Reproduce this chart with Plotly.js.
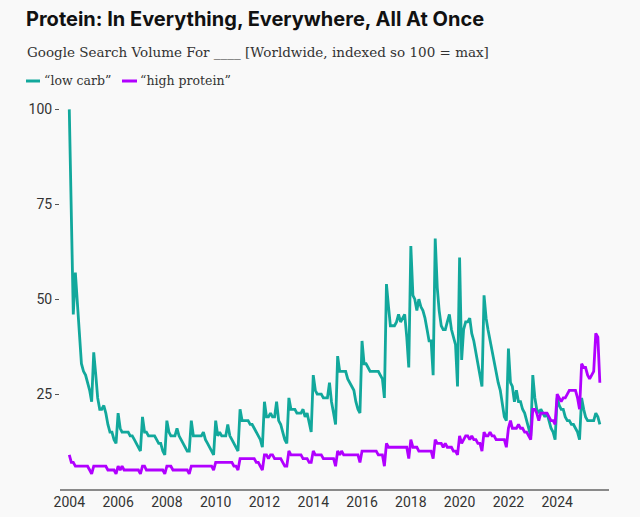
<!DOCTYPE html>
<html>
<head>
<meta charset="utf-8">
<script src="https://cdn.plot.ly/plotly-3.0.1.min.js"></script>
<style>
  html, body { margin: 0; padding: 0; background: #f9f9f9; }
  #chart { width: 640px; height: 517px; }
</style>
</head>
<body>
<div id="chart"></div>
<script>
// Monthly Google Trends index, Jan 2004 .. Oct 2025
const startYear = 2004;
const lowCarb = [
  100, 66, 46, 57, 49, 40, 33, 31, 30, 28, 26, 23,
  36, 30, 24, 21, 21, 22, 20, 17, 15, 15, 13, 12,
  20, 16, 15, 15, 15, 15, 14, 14, 13, 12, 11, 10,
  19, 15, 15, 14, 14, 14, 14, 13, 12, 12, 10, 9,
  18, 15, 14, 14, 14, 16, 14, 13, 12, 11, 10, 10,
  18, 14, 14, 14, 14, 14, 15, 13, 12, 11, 10, 9,
  18, 14, 15, 14, 14, 14, 17, 14, 13, 12, 11, 10,
  21, 18, 18, 18, 18, 17, 17, 16, 15, 14, 13, 11,
  23, 19, 19, 20, 19, 19, 23, 18, 17, 15, 13, 12,
  24, 21, 21, 21, 20, 20, 20, 21, 19, 20, 17, 15,
  30, 26, 25, 25, 25, 24, 24, 24, 28, 23, 20, 17,
  35, 31, 31, 31, 31, 29, 28, 27, 26, 23, 21, 20,
  39, 33, 33, 32, 31, 31, 31, 31, 31, 30, 29, 24,
  54, 48, 43, 43, 43, 44, 46, 44, 45, 46, 40, 32,
  64, 51, 50, 47, 50, 48, 47, 45, 42, 39, 39, 30,
  66, 53, 47, 43, 42, 42, 44, 46, 42, 40, 38, 27,
  61, 34, 42, 44, 44, 45, 41, 39, 36, 32, 29, 27,
  51, 45, 42, 39, 36, 33, 30, 28, 26, 22, 19, 18,
  37, 28, 27, 23, 26, 23, 23, 21, 20, 18, 16, 14,
  30, 24, 21, 20, 21, 20, 19, 20, 18, 16, 15, 13,
  24, 22, 21, 21, 19, 18, 18, 17, 17, 16, 15, 13,
  24, 21, 19, 18, 18, 18, 18, 20, 19, 17
];
const highProtein = [
  9, 7, 7, 6, 6, 6, 6, 6, 6, 6, 5, 4,
  6, 6, 6, 6, 6, 6, 6, 5, 5, 5, 5, 4,
  6, 5, 6, 5, 5, 5, 5, 5, 5, 5, 5, 4,
  6, 6, 5, 5, 5, 5, 5, 5, 5, 5, 5, 4,
  6, 6, 6, 5, 5, 5, 5, 5, 5, 5, 5, 4,
  6, 6, 6, 6, 6, 6, 6, 6, 6, 6, 6, 5,
  7, 7, 7, 7, 7, 7, 7, 7, 7, 6, 6, 5,
  8, 8, 8, 8, 8, 8, 8, 8, 7, 7, 6, 5,
  9, 9, 8, 9, 9, 8, 8, 8, 8, 7, 6, 6,
  10, 9, 9, 9, 9, 9, 9, 8, 8, 8, 7, 7,
  10, 9, 9, 9, 9, 8, 8, 8, 8, 8, 8, 6,
  10, 9, 10, 9, 9, 9, 9, 9, 9, 9, 9, 7,
  10, 10, 10, 10, 10, 10, 10, 10, 9, 9, 9, 6,
  12, 11, 11, 11, 11, 11, 11, 11, 11, 11, 11, 8,
  13, 11, 11, 11, 10, 10, 10, 10, 10, 10, 10, 8,
  13, 12, 12, 12, 11, 12, 11, 11, 11, 10, 10, 9,
  14, 12, 13, 14, 14, 13, 14, 13, 13, 12, 12, 10,
  15, 14, 14, 15, 14, 14, 13, 13, 13, 13, 13, 11,
  16, 18, 16, 16, 16, 17, 16, 16, 15, 15, 14, 13,
  21, 21, 20, 18, 20, 20, 20, 20, 19, 18, 18, 17,
  25, 24, 23, 24, 24, 25, 26, 26, 26, 26, 24, 21,
  33, 32, 32, 30, 29, 30, 31, 41, 40, 28
];
const seriesNames = ['\u201clow carb\u201d', '\u201chigh protein\u201d'];
const seriesColors = ['#12a89c', '#b100ff'];
const yTickVals = [25, 50, 75, 100];
const yTickText = ['25', '50', '75', '100'];
const xTickYears = [2004, 2006, 2008, 2010, 2012, 2014, 2016, 2018, 2020, 2022, 2024];

const months = [];
for (let i = 0; i < lowCarb.length; i++) {
  const y = startYear + Math.floor(i / 12);
  const m = (i % 12) + 1;
  months.push(y + '-' + String(m).padStart(2, '0') + '-01');
}

const traces = [
  { x: months, y: lowCarb, type: 'scatter', mode: 'lines', name: seriesNames[0],
    line: { color: seriesColors[0], width: 2.8 }, hoverinfo: 'x+y' },
  { x: months, y: highProtein, type: 'scatter', mode: 'lines', name: seriesNames[1],
    line: { color: seriesColors[1], width: 2.8 }, hoverinfo: 'x+y' }
];

// layout helpers: plot area 60..609 px (x), y=0 at 489 px, top at 98 px
const L = 60, R = 31, T = 98, B = 28, W = 640 - L - R, H = 517 - T - B;
const px = v => (v - L) / W;
const py = v => (517 - B - v) / H;

const serif = '"DejaVu Serif", "Liberation Serif", serif';
const sans = 'Roboto, "Liberation Sans", sans-serif';

const layout = {
  width: 640, height: 517,
  paper_bgcolor: '#f9f9f9', plot_bgcolor: '#f9f9f9',
  margin: { l: L, r: R, t: T, b: B },
  showlegend: false,
  title: {
    text: '<b>Protein: In Everything, Everywhere, All At Once</b>',
    xref: 'container', yref: 'container',
    x: 26 / 640, xanchor: 'left', y: 1 - 19 / 517, yanchor: 'middle',
    font: { family: 'Inter, Roboto, sans-serif', size: 20, color: '#111' }
  },
  xaxis: {
    type: 'date',
    range: ['2003-08-15', '2026-02-15'],
    tickvals: xTickYears.map(y => y + '-01-01'),
    ticktext: xTickYears.map(String),
    showgrid: false, zeroline: false,
    showline: true, linecolor: '#8a8a8a', linewidth: 1.5,
    ticks: '', ticklen: 0,
    tickfont: { family: sans, size: 14, color: '#333' },
    fixedrange: true
  },
  yaxis: {
    range: [0, 103],
    tickvals: yTickVals, ticktext: yTickText,
    showgrid: false, zeroline: false, showline: false,
    ticks: 'outside', ticklen: 4, tickwidth: 1.2, tickcolor: '#555',
    tickfont: { family: sans, size: 14, color: '#333' },
    fixedrange: true
  },
  annotations: [
    { text: 'Google Search Volume For ____ [Worldwide, indexed so 100 = max]',
      xref: 'paper', yref: 'paper', x: px(25), y: py(52), xanchor: 'left', yanchor: 'middle',
      showarrow: false, font: { family: serif, size: 13.5, color: '#333' } },
    { text: seriesNames[0],
      xref: 'paper', yref: 'paper', x: px(42), y: py(80), xanchor: 'left', yanchor: 'middle',
      showarrow: false, font: { family: serif, size: 12.5, color: '#333' } },
    { text: seriesNames[1],
      xref: 'paper', yref: 'paper', x: px(138), y: py(80), xanchor: 'left', yanchor: 'middle',
      showarrow: false, font: { family: serif, size: 12.5, color: '#333' } }
  ],
  shapes: [
    { type: 'line', xref: 'paper', yref: 'paper', x0: px(26), x1: px(40), y0: py(81), y1: py(81),
      line: { color: seriesColors[0], width: 3 } },
    { type: 'line', xref: 'paper', yref: 'paper', x0: px(122), x1: px(137), y0: py(81), y1: py(81),
      line: { color: seriesColors[1], width: 3 } }
  ]
};

Plotly.newPlot('chart', traces, layout, { displayModeBar: false, staticPlot: true });
</script>
</body>
</html>
